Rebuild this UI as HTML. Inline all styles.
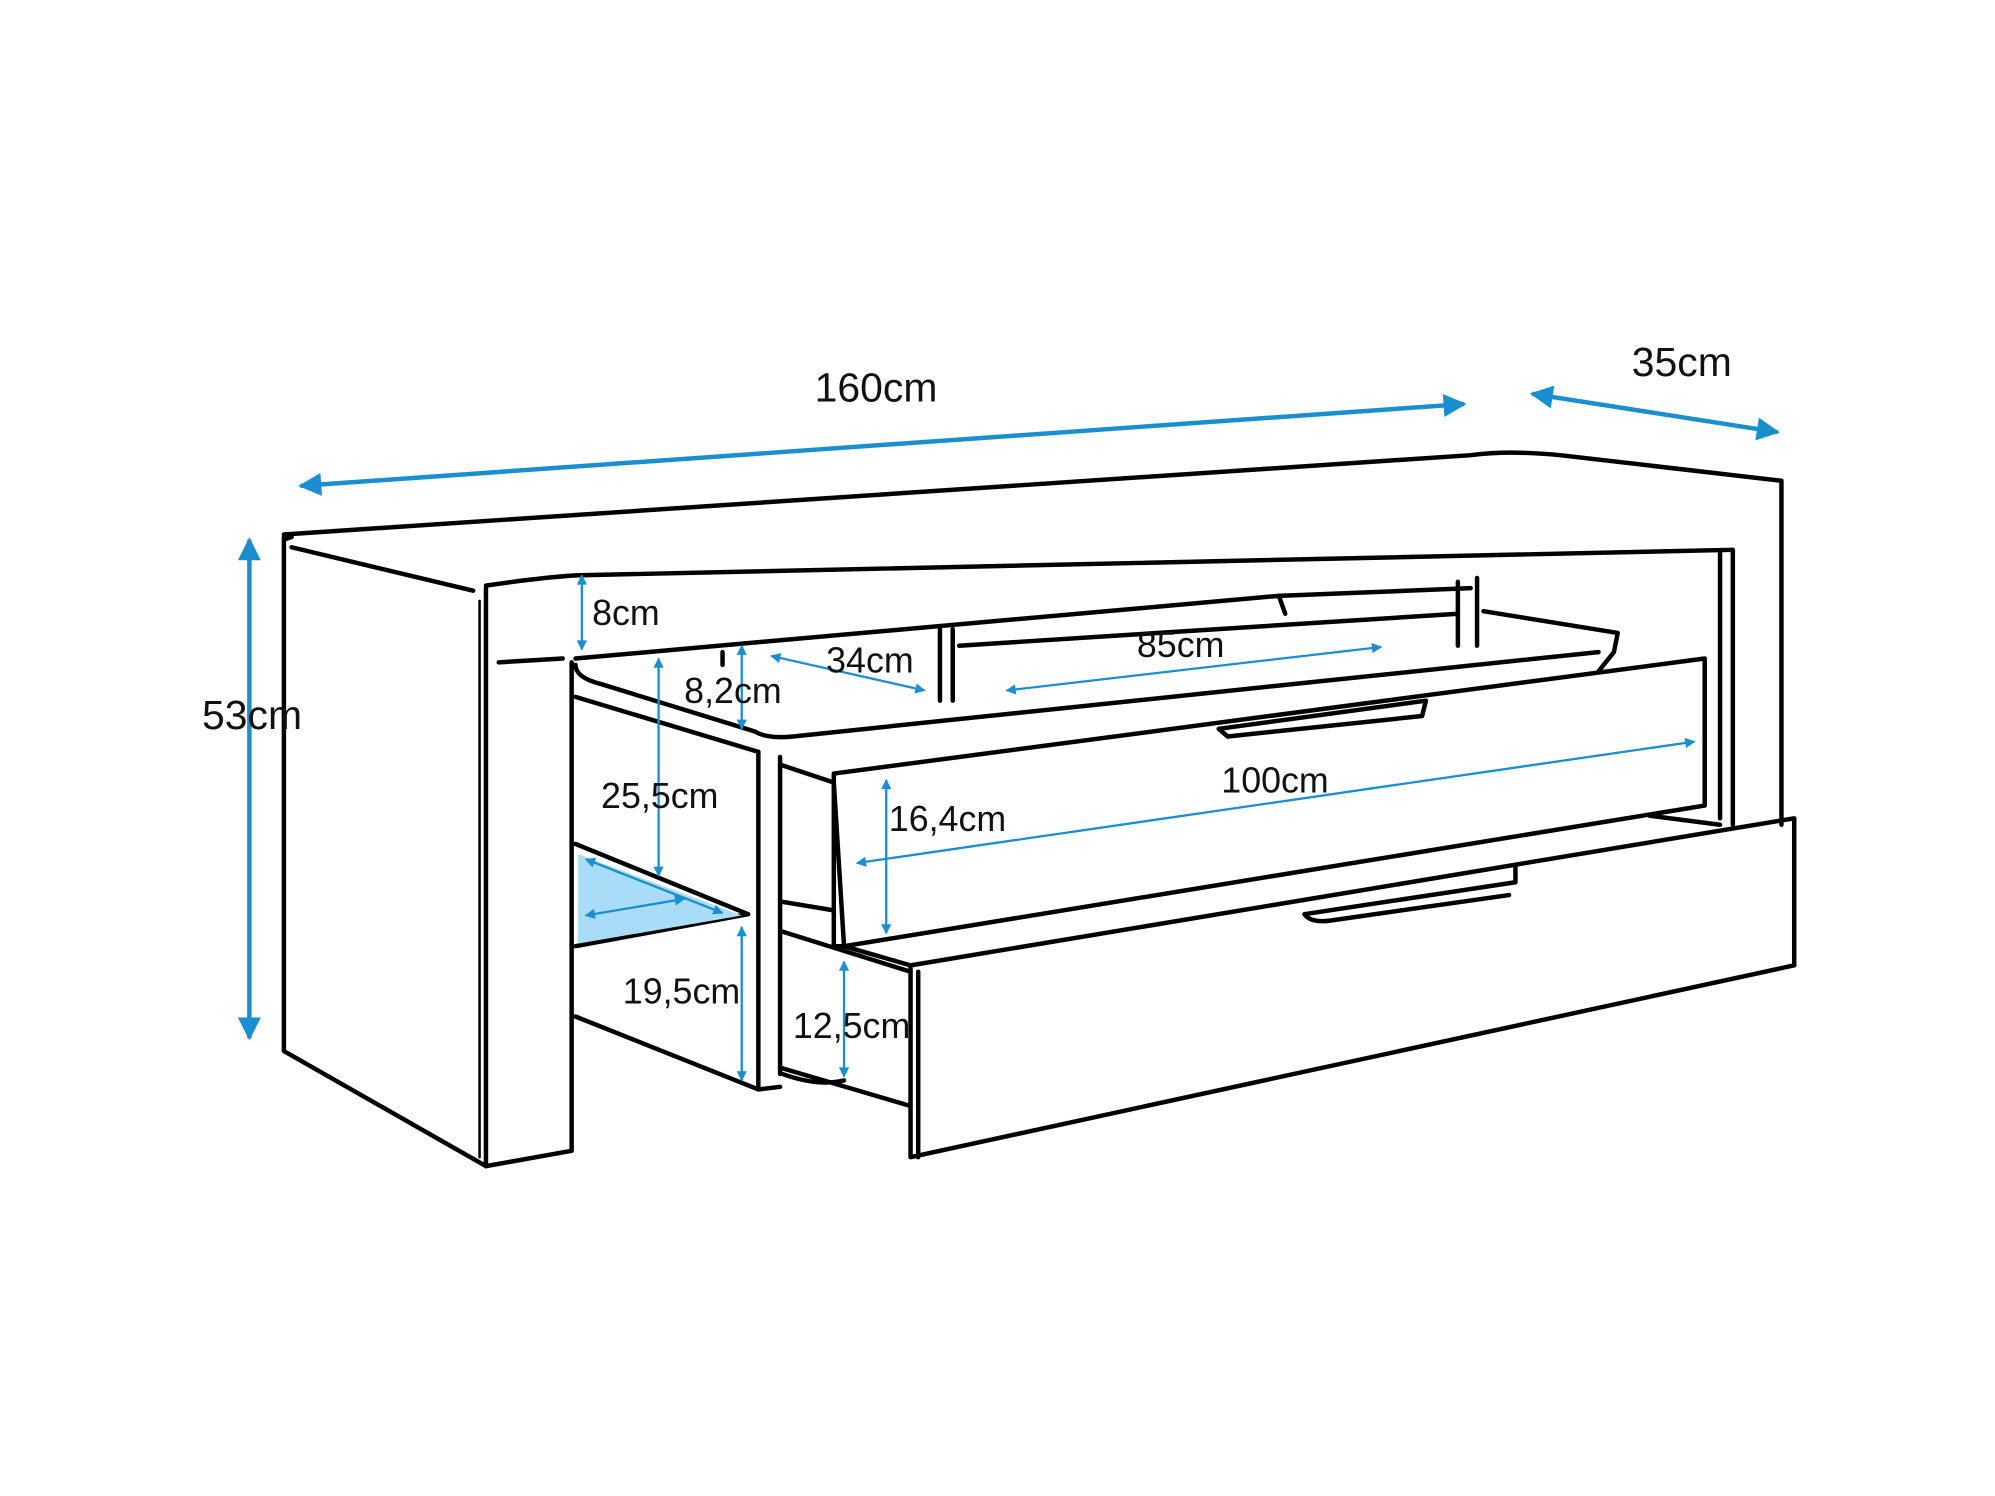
<!DOCTYPE html>
<html><head><meta charset="utf-8"><style>
html,body{margin:0;padding:0;background:#fff;}
svg{display:block;}
text{font-family:"Liberation Sans",sans-serif;fill:#111;}
</style></head><body>
<svg width="1995" height="1496" viewBox="0 0 1560 1170" preserveAspectRatio="none" xmlns="http://www.w3.org/2000/svg">
<defs>
<marker id="b" viewBox="0 0 10 10" refX="9" refY="5" markerWidth="36" markerHeight="18" orient="auto-start-reverse" markerUnits="userSpaceOnUse"><path d="M0,0L10,5L0,10z" fill="#1a8fd0"/></marker>
<marker id="c" viewBox="0 0 10 10" refX="9" refY="5" markerWidth="14" markerHeight="8" orient="auto-start-reverse" markerUnits="userSpaceOnUse"><path d="M0,0L10,5L0,10z" fill="#1a8fd0"/></marker>
</defs>
<g fill="none" stroke="#000" stroke-width="3.5" stroke-linejoin="round" stroke-linecap="round">
<path d="M222,418 L1150,356 Q1180,352 1220,356 L1393,376 L1393,645"/>
<path d="M228,428 L370,462"/>
<path d="M228,420 L222,422"/>
<path d="M380,458 Q420,452 450,450 L1355,430 L1355,645"/>
<path d="M1345,432 L1345,640"/>
<path d="M222,420 L222,822 L380,912 L447,900 L447,518"/>
<path d="M380,460 L380,912"/>
<path d="M375,470 L375,905" stroke-width="2"/>
<path d="M390,518 L440,515"/>
<path d="M450,515 L1000,466 L1150,460"/>
<path d="M1000,466 L1005,480"/>
<path d="M1140,455 L1140,505 M1155,452 L1155,505"/>
<path d="M1160,478 L1265,495 L1262,510 L1250,525"/>
<path d="M450,520 Q450,530 470,535 L590,572 Q600,578 620,576 L1250,510"/>
<path d="M450,545 L593,588"/>
<path d="M735,492 L735,548 M745,492 L745,548"/>
<path d="M750,505 L1140,480"/>
<path d="M565,510 L565,520"/>
<path d="M593,588 L593,852 L610,850"/>
<path d="M610,592 L610,840"/>
<path d="M610,598 L652,612"/>
<path d="M450,660 L585,715 L450,740"/>
<path d="M450,795 L593,852"/>
<path d="M610,835 L712,865"/>
<path d="M612,840 Q640,850 660,845"/>
<path d="M652,605 L1333,515 L1333,630 L660,740 L652,740 Z"/>
<path d="M652,612 L660,740"/>
<path d="M610,705 L652,712"/>
<path d="M610,728 L712,760"/>
<path d="M953,570 L1115,548 L1112,560 L960,576 Z"/>
<path d="M712,755 L1403,640 L1403,755 L712,905 Z"/>
<path d="M718,760 L718,905"/>
<path d="M660,740 L712,755"/>
<path d="M1290,638 L1345,645"/>
<path d="M1020,715 L1185,690 L1185,678 M1020,715 Q1025,722 1040,720 L1180,700"/>
</g>
<polygon points="452,668 580,716 452,738" fill="#a9dcf7"/>
<g stroke="#1a8fd0" fill="none">
<line x1="235" y1="380" x2="1145" y2="316" stroke-width="3.5" marker-start="url(#b)" marker-end="url(#b)"/>
<line x1="1198" y1="308" x2="1390" y2="338" stroke-width="3.5" marker-start="url(#b)" marker-end="url(#b)"/>
<line x1="195" y1="422" x2="195" y2="812" stroke-width="3.5" marker-start="url(#b)" marker-end="url(#b)"/>
<g stroke-width="1.8">
<line x1="455" y1="450" x2="455" y2="508" marker-start="url(#c)" marker-end="url(#c)"/>
<line x1="580" y1="505" x2="580" y2="570" marker-start="url(#c)" marker-end="url(#c)"/>
<line x1="603" y1="513" x2="723" y2="540" marker-start="url(#c)" marker-end="url(#c)"/>
<line x1="787" y1="540" x2="1080" y2="506" marker-start="url(#c)" marker-end="url(#c)"/>
<line x1="515" y1="515" x2="515" y2="685" marker-start="url(#c)" marker-end="url(#c)"/>
<line x1="693" y1="610" x2="693" y2="730" marker-start="url(#c)" marker-end="url(#c)"/>
<line x1="670" y1="675" x2="1325" y2="580" marker-start="url(#c)" marker-end="url(#c)"/>
<line x1="580" y1="725" x2="580" y2="845" marker-start="url(#c)" marker-end="url(#c)"/>
<line x1="660" y1="752" x2="660" y2="842" marker-start="url(#c)" marker-end="url(#c)"/>
<line x1="458" y1="672" x2="565" y2="714" marker-start="url(#c)" marker-end="url(#c)"/>
<line x1="458" y1="716" x2="535" y2="703" marker-start="url(#c)" marker-end="url(#c)"/>
</g>
</g>
<g font-size="32">
<text x="637" y="314">160cm</text>
<text x="1276" y="294">35cm</text>
<text x="158" y="570">53cm</text>
</g>
<g font-size="28">
<text x="463" y="489">8cm</text>
<text x="646" y="526">34cm</text>
<text x="889" y="514">85cm</text>
<text x="535" y="550">8,2cm</text>
<text x="470" y="632">25,5cm</text>
<text x="695" y="650">16,4cm</text>
<text x="955" y="620">100cm</text>
<text x="487" y="785">19,5cm</text>
<text x="620" y="812">12,5cm</text>
</g>
</svg>
</body></html>
